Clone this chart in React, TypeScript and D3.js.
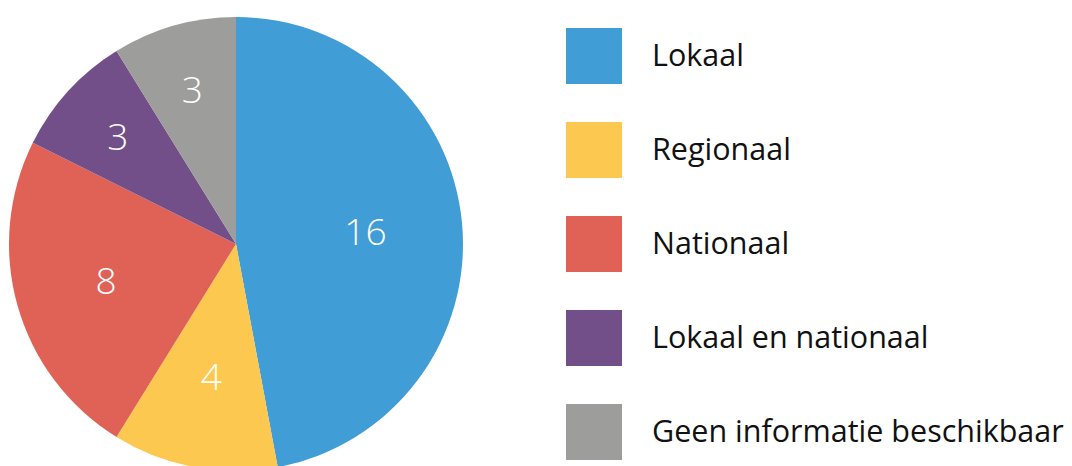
import React from "react";
import * as d3 from "d3";

const categories = ["Lokaal", "Regionaal", "Nationaal", "Lokaal en nationaal", "Geen informatie beschikbaar"];
const values = [16, 4, 8, 3, 3];
const colors = ["#419DD5", "#FDC84F", "#E06257", "#724F88", "#9D9D9B"];

const W = 1072;
const H = 466;
const cx = 236;
const cy = 244;
const R = 227;
const font = "'Open Sans', 'Noto Sans', sans-serif";

export default function App() {
  const pie = d3.pie<number>().sort(null).value((d) => d)(values);
  const arc = d3.arc<d3.PieArcDatum<number>>().innerRadius(0).outerRadius(R);
  const legendY = d3.scalePoint<string>().domain(categories).range([56, 432]);
  return (
    <svg width={W} height={H} style={{ position: "absolute", left: 0, top: 0, background: "#fff" }}>
      <g transform={`translate(${cx},${cy})`}>
        {pie.map((p, i) => (
          <path key={i} d={arc(p) as string} fill={colors[i]} />
        ))}
        {pie.map((p, i) => {
          const span = p.endAngle - p.startAngle;
          const lr = span < 0.6 ? 160 : span > 2 ? 130 : 135;
          const la = d3.arc<d3.PieArcDatum<number>>().innerRadius(lr).outerRadius(lr);
          const [x, y] = la.centroid(p);
          return (
            <text key={"l" + i} x={x} y={y} dy="0.36em" textAnchor="middle" fill="#fff" fontFamily={font} fontWeight={300} fontSize={37}>
              {values[i]}
            </text>
          );
        })}
      </g>
      {categories.map((c, i) => {
        const y = legendY(c) as number;
        return (
          <g key={"g" + i}>
            <rect x={566} y={y - 28} width={56} height={56} fill={colors[i]} />
            <text x={652} y={y} dy="0.34em" fontFamily={font} fontSize={30.5} fill="#111">
              {c}
            </text>
          </g>
        );
      })}
    </svg>
  );
}
